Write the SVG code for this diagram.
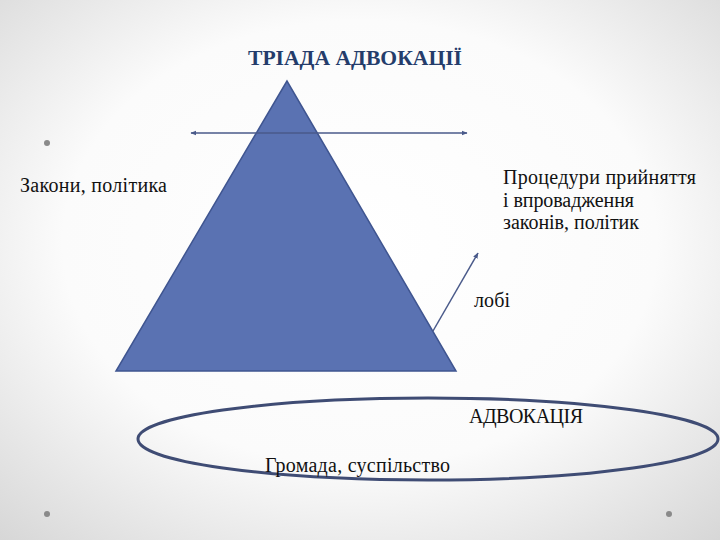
<svg xmlns="http://www.w3.org/2000/svg" width="720" height="540" viewBox="0 0 720 540">
<defs>
<radialGradient id="bg" cx="50%" cy="45%" r="75%">
<stop offset="0" stop-color="#ffffff"/>
<stop offset="0.55" stop-color="#fbfbfb"/>
<stop offset="1" stop-color="#d6d6d6"/>
</radialGradient>
<marker id="ah" viewBox="0 0 10 10" refX="9" refY="5" markerWidth="6" markerHeight="6" orient="auto-start-reverse" markerUnits="userSpaceOnUse">
<path d="M0,1 L10,5 L0,9 z" fill="#4a5a8a"/>
</marker>
<style>
.t{font-family:"Liberation Serif","Times New Roman",serif;font-size:20px;fill:#111}
.title{font-family:"Liberation Serif","Times New Roman",serif;font-size:20px;font-weight:bold;fill:#243c6b}
.dot{fill:#8a8a8a}
.conn{stroke:#4a5a8a;stroke-width:1.5;fill:none}
</style>
</defs>
<rect width="720" height="540" fill="url(#bg)"/>
<circle class="dot" cx="47" cy="143" r="3"/>
<circle class="dot" cx="47" cy="514" r="3"/>
<circle class="dot" cx="669" cy="514" r="3"/>
<text class="title" x="248" y="65" textLength="214" lengthAdjust="spacingAndGlyphs">ТРІАДА АДВОКАЦІЇ</text>
<g id="triangle">
<polygon points="287,81 116,371 456,371" fill="#5a72b2" stroke="#3f5590" stroke-width="1.5"/>
</g>
<g id="connectors">
<line class="conn" x1="191" y1="133" x2="467" y2="133" marker-start="url(#ah)" marker-end="url(#ah)"/>
<line class="conn" x1="433" y1="331" x2="478" y2="253" marker-end="url(#ah)"/>
</g>
<g id="ellipse">
<ellipse cx="428" cy="439" rx="290" ry="41" fill="none" stroke="#3f4c74" stroke-width="3"/>
</g>
<g id="laws"><text class="t" x="20" y="192" textLength="147">Закони, політика</text></g>
<g id="procedures">
<text class="t" x="503" y="184" textLength="193">Процедури прийняття</text>
<text class="t" x="503" y="207" textLength="131">і впровадження</text>
<text class="t" x="503" y="229" textLength="136">законів, політик</text>
</g>
<g id="lobby"><text class="t" x="474" y="307" textLength="36">лобі</text></g>
<g id="advocacy"><text class="t" x="469" y="423" textLength="114">АДВОКАЦІЯ</text></g>
<g id="community"><text class="t" x="265" y="472" textLength="185">Громада, суспільство</text></g>
</svg>
